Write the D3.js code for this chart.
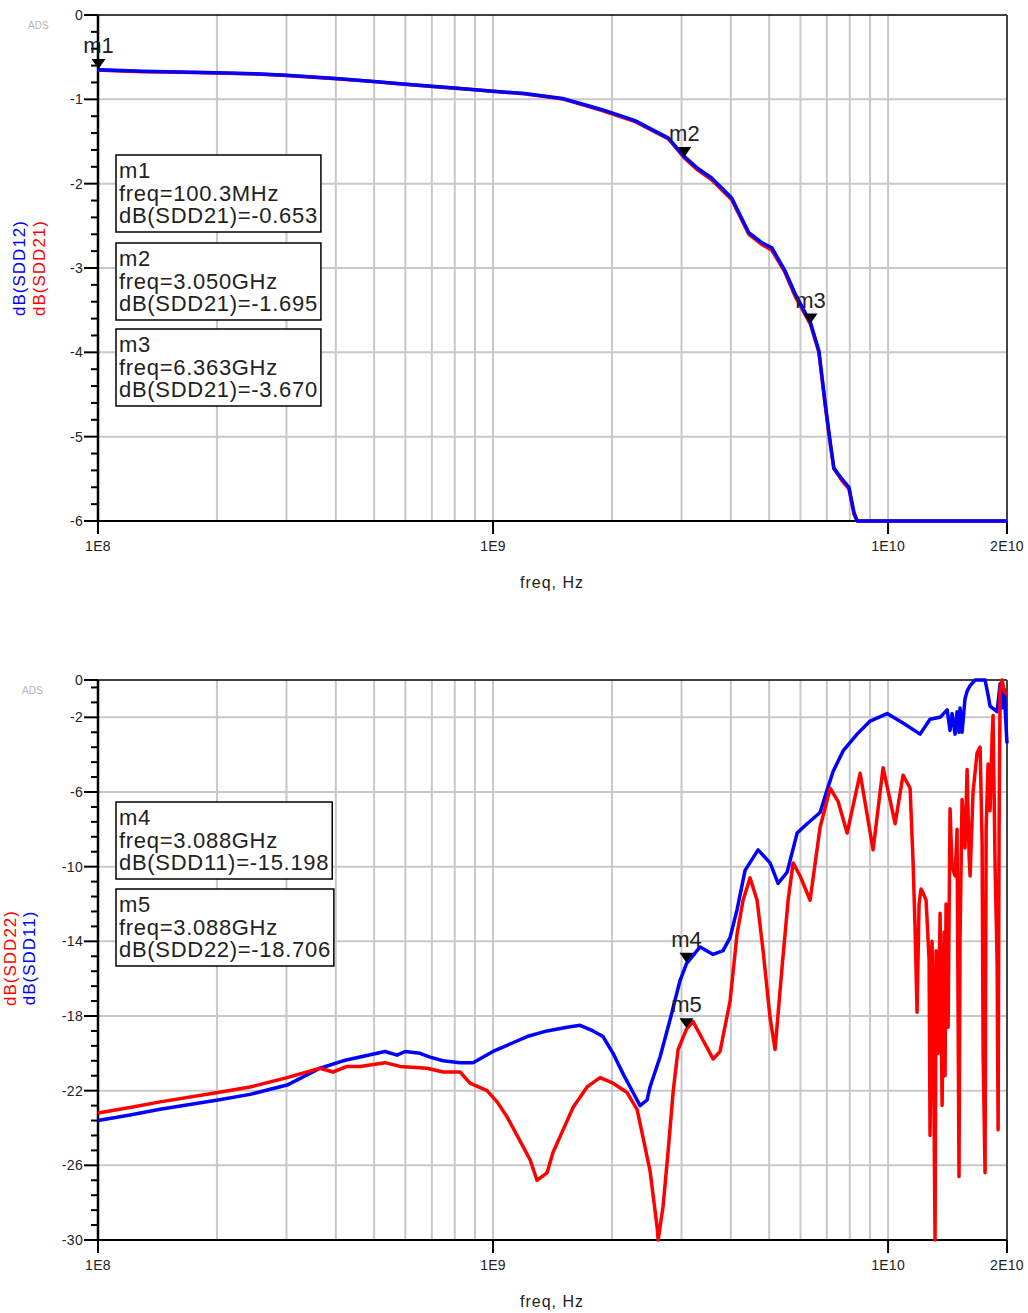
<!DOCTYPE html>
<html>
<head>
<meta charset="utf-8">
<style>
  body, html { margin: 0; padding: 0; background: white; overflow: hidden; }
  svg text { font-family: 'Liberation Sans', Arial, sans-serif; }
</style>
</head>
<body>
<svg id="chart" width="1028" height="1313"></svg>
<script src="https://cdnjs.cloudflare.com/ajax/libs/d3/7.8.5/d3.min.js"></script>
<script>
// ---- data (frequencies in GHz, values in dB) ----
const freqTop = [0.100, 0.110, 0.130, 0.160, 0.200, 0.250, 0.300, 0.400, 0.500, 0.600, 0.700, 0.800,
  0.900, 1.000, 1.200, 1.500, 1.880, 2.280, 2.780, 3.050, 3.300, 3.570, 4.020, 4.250, 4.440, 4.790,
  5.080, 5.480, 5.810, 6.363, 6.680, 6.920, 7.130, 7.290, 7.470, 7.640, 7.960, 8.200, 8.350, 9.000,
  10.00, 12.00, 14.00, 16.00, 18.00, 20.00];
const sdd21 = [-0.653, -0.660, -0.672, -0.678, -0.688, -0.700, -0.718, -0.755, -0.790, -0.822, -0.848, -0.868,
  -0.887, -0.905, -0.935, -0.995, -1.13, -1.26, -1.47, -1.695, -1.84, -1.95, -2.19, -2.42, -2.60, -2.72,
  -2.79, -3.05, -3.33, -3.67, -4.00, -4.60, -5.07, -5.38, -5.45, -5.52, -5.62, -5.92, -6.30, -6.60,
  -6.50, -6.70, -6.60, -6.80, -6.70, -6.60];
const sdd12 = [-0.650, -0.655, -0.668, -0.675, -0.684, -0.698, -0.715, -0.752, -0.788, -0.820, -0.846, -0.866,
  -0.885, -0.903, -0.932, -0.990, -1.12, -1.25, -1.46, -1.68, -1.82, -1.93, -2.17, -2.40, -2.58, -2.70,
  -2.76, -3.03, -3.30, -3.65, -3.98, -4.58, -5.05, -5.37, -5.44, -5.50, -5.60, -5.90, -6.30, -6.60,
  -6.50, -6.70, -6.60, -6.80, -6.70, -6.60];

const freq11 = [0.100, 0.1205, 0.1436, 0.2012, 0.2426, 0.3010, 0.3648, 0.4172, 0.4606, 0.533, 0.5715, 0.5987,
  0.6535, 0.6926, 0.747, 0.8252, 0.8899, 1.000, 1.104, 1.220, 1.370, 1.539, 1.661, 1.791, 1.899, 2.013,
  2.134, 2.262, 2.356, 2.454, 2.497, 2.647, 2.806, 2.974, 3.088, 3.343, 3.606, 3.822, 3.981, 4.147,
  4.345, 4.687, 5.027, 5.267, 5.551, 5.885, 6.237, 6.727, 7.008, 7.258, 7.693, 8.346, 9.005, 9.943,
  10.91, 12.05, 12.77, 13.54, 14.11, 14.35, 14.52, 14.78, 14.95, 15.12, 15.21, 15.39, 15.66, 15.85,
  16.13, 16.61, 17.60, 17.91, 18.12, 18.88, 19.21, 19.44, 19.67, 20.00];
const sdd11 = [-23.6, -23.3, -23.0, -22.5, -22.2, -21.7, -20.8, -20.4, -20.2, -19.9, -20.1, -19.9,
  -20.0, -20.2, -20.4, -20.5, -20.5, -19.9, -19.5, -19.1, -18.8, -18.6, -18.5, -18.8, -19.1, -20.0,
  -21.1, -22.1, -22.8, -22.5, -21.8, -20.2, -18.2, -16.1, -15.198, -14.3, -14.7, -14.5, -13.8, -12.3,
  -10.2, -9.1, -9.8, -10.9, -10.3, -8.2, -7.7, -7.1, -5.9, -4.9, -3.8, -2.9, -2.2, -1.8,
  -2.3, -2.9, -2.1, -2.0, -1.6, -2.7, -1.8, -2.9, -1.7, -2.8, -1.5, -2.8, -1.0, -0.6,
  -0.3, 0.2, 0.2, -0.8, -1.4, -1.7, -0.2, -1.5, -0.5, -3.4];

const freq22 = [0.100, 0.1205, 0.1436, 0.2012, 0.2426, 0.3010, 0.3648, 0.3935, 0.4270, 0.4606, 0.533, 0.5815,
  0.6806, 0.747, 0.8252, 0.8745, 0.9656, 1.024, 1.085, 1.171, 1.241, 1.292, 1.370, 1.419, 1.504, 1.594,
  1.730, 1.866, 2.013, 2.184, 2.315, 2.397, 2.497, 2.602, 2.618, 2.694, 2.773, 2.856, 2.940, 3.088,
  3.209, 3.401, 3.606, 3.755, 3.981, 4.147, 4.295, 4.473, 4.660, 4.826, 5.027, 5.175, 5.390, 5.584,
  5.748, 5.988, 6.347, 6.727, 7.133, 7.471, 7.876, 8.497, 9.163, 9.712, 10.42, 10.91, 11.37, 11.57,
  11.70, 11.84, 11.98, 12.12, 12.26, 12.48, 12.70, 12.77, 12.92, 13.00, 13.15, 13.23, 13.38, 13.54,
  13.70, 13.86, 13.94, 14.02, 14.19, 14.35, 14.52, 14.78, 14.95, 15.12, 15.21, 15.39, 15.66, 15.85,
  16.04, 16.13, 16.41, 16.80, 17.10, 17.30, 17.40, 17.60, 17.71, 17.91, 18.12, 18.34, 18.44, 18.66,
  18.88, 18.99, 19.10, 19.21, 19.44, 19.67, 20.00];
const sdd22 = [-23.2, -22.9, -22.6, -22.1, -21.8, -21.3, -20.8, -21.0, -20.7, -20.7, -20.5, -20.7,
  -20.8, -21.0, -21.0, -21.6, -22.0, -22.6, -23.4, -24.7, -25.7, -26.8, -26.4, -25.3, -24.1, -22.9,
  -21.8, -21.3, -21.6, -22.1, -23.0, -24.5, -26.3, -29.3, -30.5, -28.2, -25.3, -22.1, -19.8, -18.706,
  -18.3, -19.3, -20.3, -19.9, -17.2, -13.6, -11.8, -10.6, -11.8, -14.5, -18.1, -19.8, -15.4, -11.8,
  -9.8, -10.5, -11.8, -7.9, -5.8, -6.5, -8.2, -5.0, -9.1, -4.7, -7.7, -5.1, -5.8, -9.8,
  -13.2, -17.8, -12.0, -11.2, -11.4, -11.8, -15.0, -24.4, -14.0, -17.0, -30.5, -14.5, -20.0, -12.5,
  -22.8, -13.5, -21.2, -12.0, -18.6, -6.9, -10.0, -10.5, -8.0, -26.6, -14.0, -6.4, -9.0, -4.8,
  -9.5, -10.5, -6.0, -3.9, -3.6, -8.7, -20.0, -26.4, -8.0, -4.5, -7.0, -3.0, -1.9, -10.0,
  -15.1, -24.1, -8.0, -0.5, 0.3, -0.6, -0.8];

const xTickValues = [1e8, 1e9, 1e10, 2e10];
const xTickLabels = ["1E8", "1E9", "1E10", "2E10"];
const topYTicks = [0, -1, -2, -3, -4, -5, -6];
const botYTicks = [0, -2, -6, -10, -14, -18, -22, -26, -30];

const topMarkers = [
  { name: "m1", freq: 0.1003, val: -0.653, trace: "SDD21" },
  { name: "m2", freq: 3.050, val: -1.695, trace: "SDD21" },
  { name: "m3", freq: 6.363, val: -3.670, trace: "SDD21" }
];
const botMarkers = [
  { name: "m4", freq: 3.088, val: -15.198, trace: "SDD11" },
  { name: "m5", freq: 3.088, val: -18.706, trace: "SDD22" }
];

const BLUE = "#0000ff", RED = "#ff0000";
const svg = d3.select('#chart');

function fmtFreq(f) {
  if (f < 1) return "freq=" + (f * 1000).toFixed(1) + "MHz";
  return "freq=" + f.toFixed(3) + "GHz";
}

function drawPanel(p) {
  const left = 98, right = 1007;
  const x = d3.scaleLog().domain([1e8, 2e10]).range([left, right]);
  const y = d3.scaleLinear().domain([0, p.yMin]).range([p.top, p.bottom]).clamp(true);
  const g = svg.append('g');

  // vertical grid
  const vGrid = [];
  for (let d = 1e8; d < 2e10; d *= 10) {
    for (let k = 1; k <= 9; k++) {
      const v = k * d;
      if (v > 1e8 && v < 2e10) vGrid.push(v);
    }
  }
  g.selectAll('.vgrid').data(vGrid).join('line')
    .attr('x1', d => x(d)).attr('x2', d => x(d))
    .attr('y1', p.top).attr('y2', p.bottom)
    .attr('stroke', '#c8c8c8').attr('stroke-width', 2);

  // horizontal grid
  g.selectAll('.hgrid').data(p.hGrid).join('line')
    .attr('x1', left).attr('x2', right)
    .attr('y1', d => y(d)).attr('y2', d => y(d))
    .attr('stroke', '#c8c8c8').attr('stroke-width', 2);

  // minor y ticks
  g.selectAll('.minor').data(p.minorTicks).join('line')
    .attr('x1', left - 7).attr('x2', left)
    .attr('y1', d => y(d)).attr('y2', d => y(d))
    .attr('stroke', 'black').attr('stroke-width', 2);

  // major y ticks + labels
  g.selectAll('.major').data(p.yTicks).join('line')
    .attr('x1', left - 14).attr('x2', left)
    .attr('y1', d => y(d)).attr('y2', d => y(d))
    .attr('stroke', 'black').attr('stroke-width', 2);
  g.selectAll('.ylab').data(p.yTicks).join('text')
    .attr('x', left - 15).attr('y', d => y(d)).attr('dy', '0.36em')
    .attr('text-anchor', 'end').attr('font-size', 14).attr('letter-spacing', 0.3)
    .attr('fill', '#222').text(d => d === 0 ? "0" : "-" + Math.abs(d));

  // frame
  g.append('line').attr('x1', left - 14).attr('x2', right).attr('y1', p.top).attr('y2', p.top)
    .attr('stroke', 'black').attr('stroke-width', 1.5);
  g.append('line').attr('x1', right).attr('x2', right).attr('y1', p.top).attr('y2', p.bottom)
    .attr('stroke', '#444').attr('stroke-width', 2);
  g.append('line').attr('x1', left).attr('x2', left).attr('y1', p.top).attr('y2', p.bottom)
    .attr('stroke', 'black').attr('stroke-width', 2.5);
  g.append('line').attr('x1', left).attr('x2', right).attr('y1', p.bottom).attr('y2', p.bottom)
    .attr('stroke', 'black').attr('stroke-width', 2);

  // x ticks + labels
  g.selectAll('.xt').data(xTickValues).join('line')
    .attr('x1', d => x(d)).attr('x2', d => x(d))
    .attr('y1', p.bottom).attr('y2', p.bottom + 13)
    .attr('stroke', 'black').attr('stroke-width', 2);
  g.selectAll('.xl').data(xTickValues).join('text')
    .attr('x', d => x(d)).attr('y', p.bottom + 30)
    .attr('text-anchor', 'middle').attr('font-size', 14).attr('letter-spacing', 0.3)
    .attr('fill', '#222').text((d, i) => xTickLabels[i]);

  g.append('text').attr('x', 552).attr('y', p.bottom + 67)
    .attr('text-anchor', 'middle').attr('font-size', 16).attr('letter-spacing', 1)
    .attr('fill', '#222').text('freq, Hz');

  g.append('text').attr('x', p.adsX).attr('y', p.top + 14)
    .attr('font-size', 10).attr('fill', '#b4b4b4').text('ADS');

  // y axis titles (rotated)
  p.yTitles.forEach(t => {
    g.append('text')
      .attr('transform', `translate(${t.x},${p.titleY}) rotate(-90)`)
      .attr('text-anchor', 'middle').attr('font-size', 17).attr('letter-spacing', 1)
      .attr('fill', t.color).text(t.text);
  });

  // traces
  const line = d3.line().x(d => x(d[0] * 1e9)).y(d => y(d[1]));
  p.traces.forEach(tr => {
    const pts = tr.freq.map((f, i) => [f, tr.vals[i]]);
    g.append('path').datum(pts)
      .attr('d', line)
      .attr('fill', 'none').attr('stroke', tr.color)
      .attr('stroke-width', 3.5).attr('stroke-linejoin', 'round');
  });

  // marker triangles + labels
  p.markers.forEach(m => {
    const mx = x(m.freq * 1e9), my = y(m.val);
    g.append('path')
      .attr('d', `M${mx - 7},${my - 11} L${mx + 7},${my - 11} L${mx},${my - 1} Z`)
      .attr('fill', 'black');
    g.append('text').attr('x', mx).attr('y', my - 17)
      .attr('text-anchor', 'middle').attr('font-size', 22).attr('fill', '#222').text(m.name);
  });

  // marker readout boxes
  p.markers.forEach((m, i) => {
    const top = p.boxTops[i];
    const bg = g.append('g');
    const rect = bg.append('rect').attr('x', 116).attr('y', top)
      .attr('fill', 'white').attr('stroke', 'black').attr('stroke-width', 1.5);
    const lines = [m.name, fmtFreq(m.freq), "dB(" + m.trace + ")=" + m.val.toFixed(3)];
    let maxW = 0;
    lines.forEach((s, k) => {
      const t = bg.append('text').attr('x', 119).attr('y', top + 23 + k * 22.5)
        .attr('font-size', 22).attr('letter-spacing', 0.7).attr('fill', '#222').text(s);
      maxW = Math.max(maxW, t.node().getComputedTextLength());
    });
    rect.attr('width', maxW + 6).attr('height', 77);
  });
}

drawPanel({
  top: 15, bottom: 521, yMin: -6,
  yTicks: topYTicks,
  hGrid: [-1, -2, -3, -4, -5],
  minorTicks: d3.range(0, 31).map(i => -i * 0.2).filter(v => Math.abs(v - Math.round(v)) > 0.01),
  adsX: 28, titleY: 268,
  yTitles: [{ text: "dB(SDD12)", color: BLUE, x: 25 }, { text: "dB(SDD21)", color: RED, x: 45 }],
  traces: [{ freq: freqTop, vals: sdd21, color: RED }, { freq: freqTop, vals: sdd12, color: BLUE }],
  markers: topMarkers,
  boxTops: [155, 243, 329]
});

drawPanel({
  top: 680, bottom: 1240, yMin: -30,
  yTicks: botYTicks,
  hGrid: [-2, -6, -10, -14, -18, -22, -26],
  minorTicks: d3.range(1, 38).map(i => -30 + i * 0.8).filter(v => Math.abs(((v + 30) / 4) - Math.round((v + 30) / 4)) > 0.01),
  adsX: 22, titleY: 958,
  yTitles: [{ text: "dB(SDD22)", color: RED, x: 16 }, { text: "dB(SDD11)", color: BLUE, x: 35 }],
  traces: [{ freq: freq11, vals: sdd11, color: BLUE }, { freq: freq22, vals: sdd22, color: RED }],
  markers: botMarkers,
  boxTops: [802, 889]
});
</script>
</body>
</html>
